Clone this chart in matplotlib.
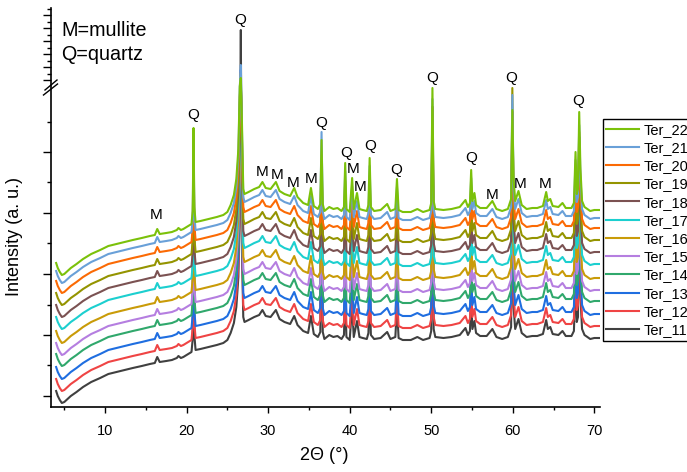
import numpy as np
import matplotlib
matplotlib.use("Agg")
import matplotlib.pyplot as plt
from matplotlib.lines import Line2D

plt.rcParams['font.family'] = ['Liberation Sans', 'DejaVu Sans']

# ---------------- data ----------------
series_names = ['Ter_11', 'Ter_12', 'Ter_13', 'Ter_14', 'Ter_15', 'Ter_16',
                'Ter_17', 'Ter_18', 'Ter_19', 'Ter_20', 'Ter_21', 'Ter_22']
series_colors = ['#404040', '#ef4444', '#1f6ee0', '#30a86c', '#b57ee0', '#c99b08',
                 '#1ccfcf', '#7b5252', '#949400', '#fb6a04', '#69a0d8', '#7bc10a']
# vertical stacking offset of each pattern (a.u.)
offsets = [0, 12, 24, 37, 48, 60, 74, 86, 98, 110, 120, 128]

# 2-theta positions and intensity profile of Ter_11 (a.u.)
two_theta = [4.0, 4.2, 4.45, 4.7, 5.0, 5.4, 5.8, 6.5, 7.3, 8.3, 9.4, 10.4, 11.4, 12.4,
             13.4, 14.5, 15.5, 16.1, 16.4, 16.7, 17.5, 18.2, 18.8, 19.0, 19.3, 19.6,
             20.2, 20.6, 20.75, 20.85, 20.95, 21.1, 21.7, 22.7, 23.7, 24.5, 25.0, 25.4,
             25.8, 26.1, 26.35, 26.52, 26.65, 26.78, 26.95, 27.1, 27.6, 28.3, 28.9, 29.3,
             29.7, 30.3, 30.95, 31.4, 32.0, 32.7, 33.2, 33.6, 34.3, 34.9, 35.25, 35.6,
             36.1, 36.4, 36.55, 36.7, 36.9, 37.5, 38.0, 38.5, 39.0, 39.3, 39.45, 39.6,
             40.0, 40.3, 40.5, 40.9, 41.2, 41.6, 42.1, 42.3, 42.45, 42.6, 43.0, 43.8,
             44.6, 45.0, 45.6, 45.8, 46.0, 46.5, 47.5, 48.3, 49.0, 49.8, 50.0, 50.15,
             50.3, 50.5, 51.5, 52.5, 53.5, 54.2, 54.5, 54.75, 54.9, 55.05, 55.3, 55.5,
             56.0, 56.8, 57.5, 58.0, 58.7, 59.4, 59.8, 59.95, 60.1, 60.3, 60.7, 61.1,
             61.7, 62.4, 63.0, 63.7, 64.1, 64.3, 64.6, 64.9, 65.6, 66.1, 66.5, 67.2,
             67.5, 67.7, 67.85, 68.0, 68.15, 68.3, 68.5, 68.8, 69.5, 70.0, 70.7]
ter11_profile = [16, 11, 7, 4, 5, 8, 11, 15, 20, 25, 29, 33, 35, 37,
                 39, 41, 43, 44, 50, 45, 46, 47, 49, 51, 49, 50,
                 53, 55, 68, 262, 72, 57, 58, 60, 62, 64, 67, 74,
                 84, 100, 130, 200, 609, 160, 90, 85, 87, 90, 92, 97,
                 91, 90, 97, 88, 85, 83, 91, 82, 76, 74, 91, 73,
                 70, 75, 245, 75, 68, 72, 70, 71, 68, 72, 116, 70,
                 67, 101, 70, 86, 70, 69, 68, 74, 121, 72, 68, 69,
                 75, 68, 70, 100, 69, 67, 67, 70, 67, 69, 76, 300,
                 78, 70, 69, 70, 72, 79, 72, 76, 109, 78, 86, 74,
                 71, 71, 78, 70, 68, 70, 80, 295, 100, 78, 88, 74,
                 70, 71, 71, 73, 87, 78, 80, 73, 72, 76, 71, 71,
                 76, 127, 85, 90, 270, 110, 78, 72, 68, 69, 69]

# strongest quartz reflections: peak top of every pattern (a.u.)
big_peaks = [20.85, 26.65, 36.55, 50.15, 59.95, 68.15]
big_peak_tops = {
    'Ter_11': [262, 609, 245, 300, 295, 270],
    'Ter_12': [258, 400, 240, 295, 290, 265],
    'Ter_13': [262, 410, 245, 300, 295, 270],
    'Ter_14': [255, 385, 238, 292, 288, 262],
    'Ter_15': [258, 375, 242, 296, 292, 266],
    'Ter_16': [252, 395, 238, 290, 286, 260],
    'Ter_17': [256, 365, 242, 295, 290, 265],
    'Ter_18': [254, 355, 238, 292, 288, 262],
    'Ter_19': [258, 360, 245, 298, 319, 270],
    'Ter_20': [262, 350, 248, 300, 295, 275],
    'Ter_21': [268, 434, 275, 308, 312, 282],
    'Ter_22': [279, 369, 267, 319, 297, 295],
}

# phase labels (text, 2theta, height)
label_text = ['M', 'Q', 'Q', 'M', 'M', 'M', 'M', 'Q', 'Q', 'M', 'M', 'Q', 'Q',
              'Q', 'Q', 'M', 'Q', 'M', 'M', 'Q']
label_x = [16.26, 20.83, 26.56, 29.23, 31.07, 33.1, 35.24, 36.5, 39.53, 40.39, 41.29,
           42.48, 45.74, 50.08, 54.94, 57.52, 59.82, 60.92, 63.99, 68.08]
label_y = [192, 292, 659, 235, 232, 224, 228, 284, 254, 238, 220,
           261, 237, 368, 249, 212, 368, 223, 223, 306]

xticks_major = [10, 20, 30, 40, 50, 60, 70]
xticks_minor = [5, 15, 25, 35, 45, 55, 65]

# ---------------- axis break scale ----------------
BREAK = 319.0
COMP = 0.2


def fwd(y):
    y = np.asarray(y, dtype=float)
    return np.where(y <= BREAK, y, BREAK + (y - BREAK) * COMP)


def inv(v):
    v = np.asarray(v, dtype=float)
    return np.where(v <= BREAK, v, BREAK + (v - BREAK) / COMP)


W, H = 687, 472
fig = plt.figure(figsize=(W / 100, H / 100), dpi=100)
ax_l, ax_r, ax_t, ax_b = 51, 600, 8, 407
ax = fig.add_axes([ax_l / W, 1 - ax_b / H, (ax_r - ax_l) / W, (ax_b - ax_t) / H])
ax.set_yscale('function', functions=(fwd, inv))

x = np.array(two_theta)
base = np.array(ter11_profile, dtype=float)
peak_idx = [int(np.argmin(np.abs(x - p))) for p in big_peaks]

handles = []
for name, col, off in zip(series_names, series_colors, offsets):
    y = base + off
    for j, idx in enumerate(peak_idx):
        y[idx] = big_peak_tops[name][j]
    h, = ax.plot(x, y, color=col, lw=1.5, label=name)
    handles.append(h)

for t, lx, ly in zip(label_text, label_x, label_y):
    ax.text(lx, ly, t, ha='center', va='center', fontsize=11)

ax.set_xlim(3.37, 70.7)
ax.set_ylim(0, 719)

ax.set_xticks(xticks_major)
ax.set_xticks(xticks_minor, minor=True)
ax.tick_params(axis='x', which='major', length=4.5, width=1, labelsize=10.5, pad=8)
ax.tick_params(axis='x', which='minor', length=2.5, width=1)

y_major = [11, 72, 133, 194, 255, 359, 424, 489, 554, 619, 684]
y_minor = [42, 102, 164, 225, 285, 391.5, 456.5, 521.5, 586.5, 651.5, 716.5]
ax.set_yticks(y_major)
ax.set_yticks(y_minor, minor=True)
ax.set_yticklabels([])
ax.tick_params(axis='y', which='major', length=5.5, width=1)
ax.tick_params(axis='y', which='minor', length=3, width=1)

for s in ['top', 'right']:
    ax.spines[s].set_visible(False)
for s in ['left', 'bottom']:
    ax.spines[s].set_linewidth(1.2)

# axis-break marks
for (x1, y1, x2, y2) in [(43.5, 95, 57.5, 84), (45, 90, 57, 80)]:
    fig.add_artist(Line2D([x1 / W, x2 / W], [1 - y1 / H, 1 - y2 / H],
                          transform=fig.transFigure, color='black', lw=1))

fig.text(61 / W, 1 - 30 / H, 'M=mullite', fontsize=14.2, ha='left', va='center')
fig.text(61 / W, 1 - 54 / H, 'Q=quartz', fontsize=14.2, ha='left', va='center')

fig.text(324 / W, 1 - 456 / H, '2Θ (°)', fontsize=13, ha='center', va='center')
fig.text(15 / W, 1 - 236 / H, 'Intensity (a. u.)', fontsize=13, ha='center',
         va='center', rotation=90)

leg = fig.legend(handles[::-1], series_names[::-1], loc='upper left',
                 bbox_to_anchor=(602.5 / W, 1 - 119 / H), borderaxespad=0,
                 fontsize=10.5, frameon=True, fancybox=False, framealpha=1,
                 edgecolor='black', handlelength=2.25, handletextpad=0.3,
                 borderpad=0.25, labelspacing=0.29)
leg.get_frame().set_linewidth(1.0)

fig.savefig('out.png', dpi=100)
